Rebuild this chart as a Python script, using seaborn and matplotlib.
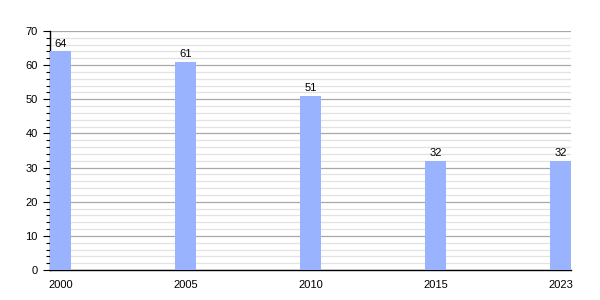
import matplotlib
matplotlib.use("Agg")
import matplotlib.pyplot as plt
from matplotlib.ticker import MultipleLocator
import seaborn as sns
import pandas as pd

years = ["2000", "2005", "2010", "2015", "2023"]
values = [64, 61, 51, 32, 32]

sns.set_theme(style="white")
plt.rcParams['font.family'] = ['Liberation Sans', 'DejaVu Sans']
plt.rcParams['text.color'] = 'black'
plt.rcParams['xtick.color'] = 'black'
plt.rcParams['ytick.color'] = 'black'

df = pd.DataFrame({"year": years, "value": values})

fig = plt.figure(figsize=(6, 3), dpi=100)
ax = fig.add_axes([50/600, 1-270/300, 521/600, 239/300])

sns.barplot(data=df, x="year", y="value", color="#99b3ff", saturation=1,
            width=0.168, ax=ax, zorder=3, linewidth=0, edgecolor="none")

ax.set_xlim(-0.084, 4.084)
ax.set_ylim(0, 70)
ax.yaxis.set_major_locator(MultipleLocator(10))
ax.yaxis.set_minor_locator(MultipleLocator(2))
ax.grid(which="major", axis="y", color="#a8a8a8", linewidth=0.9, zorder=0)
ax.grid(which="minor", axis="y", color="#e2e2e2", linewidth=0.9, zorder=0)
ax.set_axisbelow(True)

for s in ["top", "right"]:
    ax.spines[s].set_visible(False)
for s in ["left", "bottom"]:
    ax.spines[s].set_color("black")
    ax.spines[s].set_linewidth(1.0)

ax.tick_params(axis="y", which="major", left=True, length=5, width=0.8,
               color="black", labelsize=8, pad=4, labelcolor="black")
ax.tick_params(axis="y", which="minor", left=True, length=3, width=0.8, color="black")
ax.tick_params(axis="x", which="both", bottom=False, labelsize=8, pad=1, labelcolor="black")
ax.set_xlabel("")
ax.set_ylabel("")

for cont in ax.containers:
    ax.bar_label(cont, labels=[str(v) for v in values], fontsize=8, padding=2, color="black")

fig.savefig("out.png", dpi=100)
